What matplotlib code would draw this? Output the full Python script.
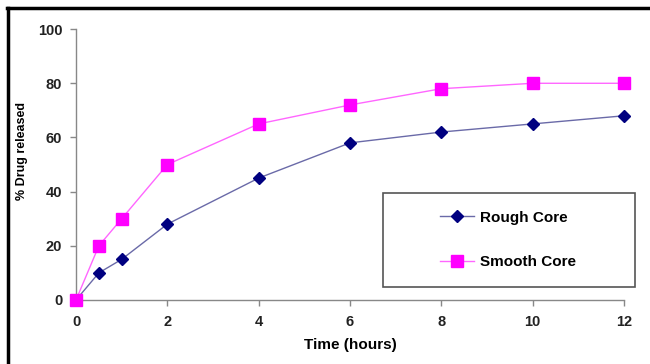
import matplotlib.pyplot as plt
from matplotlib.lines import Line2D
from matplotlib.patches import Rectangle

plt.rcParams['font.family'] = ['Liberation Sans', 'DejaVu Sans']
plt.rcParams['font.weight'] = 'bold'

time_h = [0, 0.5, 1, 2, 4, 6, 8, 10, 12]
rough = [0, 10, 15, 28, 45, 58, 62, 65, 68]
smooth = [0, 20, 30, 50, 65, 72, 78, 80, 80]
xticks = [0, 2, 4, 6, 8, 10, 12]
yticks = [0, 20, 40, 60, 80, 100]

fig = plt.figure(figsize=(6.5, 3.64), dpi=100)
ax = fig.add_axes([0.117, 0.176, 0.843, 0.744])

ax.plot(time_h, rough, color='#6a6aa8', lw=1, marker='D', ms=6,
        mfc='#000080', mec='#000080', label='Rough Core', zorder=3)
ax.plot(time_h, smooth, color='#ff66ff', lw=1, marker='s', ms=8,
        mfc='#ff00ff', mec='#ff00ff', label='Smooth Core', zorder=3)

ax.set_xlim(0, 12)
ax.set_ylim(0, 100)
ax.set_xticks(xticks)
ax.set_yticks(yticks)
for s in ['top', 'right']:
    ax.spines[s].set_visible(False)
for s in ['left', 'bottom']:
    ax.spines[s].set_color('#888888')
    ax.spines[s].set_linewidth(1)
ax.tick_params(colors='#888888', labelcolor='#222222', labelsize=10.5, length=4, width=1)
ax.tick_params(axis='x', pad=7)
ax.tick_params(axis='y', pad=6)
for lab in ax.get_xticklabels() + ax.get_yticklabels():
    lab.set_fontweight('bold')
for p in ax.get_lines():
    p.set_clip_on(False)

ax.set_xlabel('Time (hours)', fontsize=11, fontweight='bold', labelpad=6)
ax.set_ylabel('% Drug released', fontsize=9, fontweight='bold')
ax.yaxis.set_label_coords(-0.087, 0.55)

# legend box
fig.add_artist(Rectangle((383/650, 1 - 287/364), 252/650, 94/364,
                         transform=fig.transFigure, fill=False,
                         edgecolor='#555555', lw=1.2))
fig.legend(loc='center', bbox_to_anchor=(0.782, 0.341), frameon=False,
           prop={'weight': 'bold', 'size': 11}, labelspacing=2.0,
           handlelength=2.2, handletextpad=0.4)

# outer border (top and left only)
fig.add_artist(Line2D([0.011, 1.0], [1 - 8/364, 1 - 8/364], color='black', lw=2.5,
                      transform=fig.transFigure))
fig.add_artist(Line2D([8/650, 8/650], [0, 1 - 8/364], color='black', lw=2.5,
                      transform=fig.transFigure))

fig.savefig('out.png', dpi=100)
